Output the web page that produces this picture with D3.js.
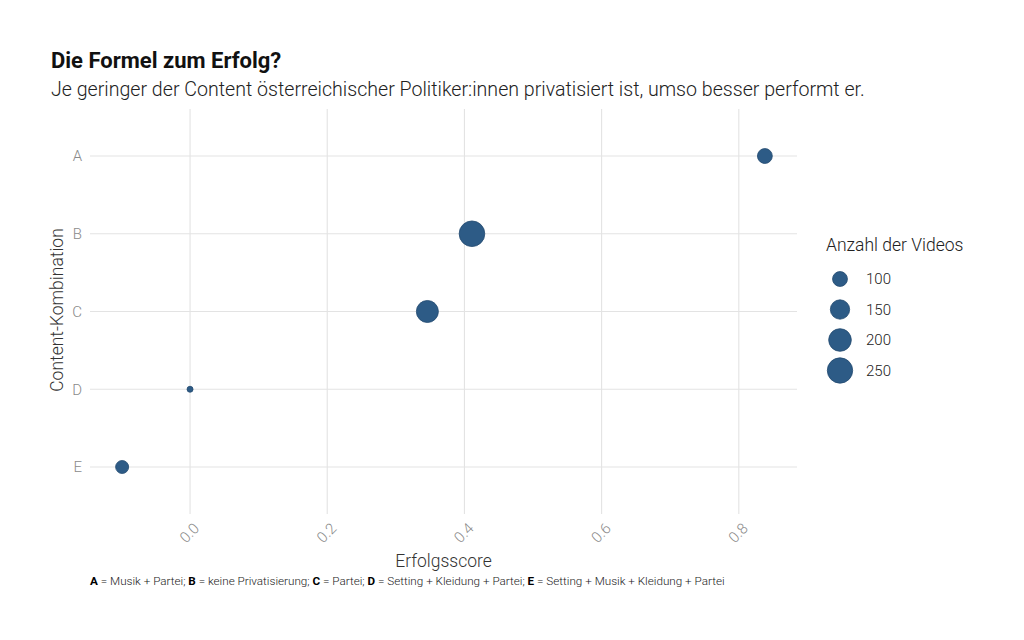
<!DOCTYPE html>
<html>
<head>
<meta charset="utf-8">
<script src="https://cdn.jsdelivr.net/npm/d3@7"></script>
<style>
  body { margin: 0; background: #fff; }
  text { font-family: Roboto, "Noto Sans", sans-serif; }
</style>
</head>
<body>
<div id="chart"></div>
<script>
// data
var categories = ["A", "B", "C", "D", "E"];
var scores = [0.838, 0.411, 0.346, 0.0, -0.099];
var videos = [100, 255, 190, 60, 85];
var xTicks = [0.0, 0.2, 0.4, 0.6, 0.8];
var legendSizes = [100, 150, 200, 250];
var footParts = [
  ["A", " = Musik + Partei; "],
  ["B", " = keine Privatisierung; "],
  ["C", " = Partei; "],
  ["D", " = Setting + Kleidung + Partei; "],
  ["E", " = Setting + Musik + Kleidung + Partei"]
];

var width = 1024, height = 640;
var panel = {left: 90, right: 797, top: 109, bottom: 514};
var dotColor = "#2d5b86", dotStroke = "#234a70";

var svg = d3.select("#chart").append("svg")
    .attr("width", width)
    .attr("height", height);

var data = categories.map(function(c, i) {
  return {cat: c, score: scores[i], n: videos[i]};
});

// ggplot-style 5% expansion
var ext = d3.extent(scores), pad = (ext[1] - ext[0]) * 0.05;
var x = d3.scaleLinear()
    .domain([ext[0] - pad, ext[1] + pad])
    .range([panel.left, panel.right]);

var y = d3.scalePoint()
    .domain(categories)
    .range([156, 467]);

// size: area rescaled between min and max of counts
var norm = d3.scaleLinear().domain(d3.extent(videos)).range([0, 1]);
var rSqrt = d3.scaleSqrt().domain([0, 1]).range([3, 12.8]);
function r(v) { return rSqrt(norm(v)); }

// grid
svg.append("g").selectAll("line")
    .data(xTicks)
  .enter().append("line")
    .attr("x1", function(d) { return x(d); })
    .attr("x2", function(d) { return x(d); })
    .attr("y1", panel.top)
    .attr("y2", panel.bottom)
    .attr("stroke", "#e3e3e3")
    .attr("stroke-width", 1.1);

svg.append("g").selectAll("line")
    .data(categories)
  .enter().append("line")
    .attr("x1", panel.left)
    .attr("x2", panel.right)
    .attr("y1", function(d) { return y(d); })
    .attr("y2", function(d) { return y(d); })
    .attr("stroke", "#e3e3e3")
    .attr("stroke-width", 1.1);

// axes (labels only, like theme_minimal)
var xAxis = svg.append("g")
    .attr("transform", "translate(0," + panel.bottom + ")")
    .call(d3.axisBottom(x).tickValues(xTicks).tickFormat(d3.format(".1f")).tickSize(0));
xAxis.select(".domain").remove();
xAxis.selectAll("text")
    .attr("y", 0).attr("dy", null)
    .attr("transform", "translate(-1,19) rotate(-45)")
    .attr("dominant-baseline", "central")
    .style("text-anchor", "middle")
    .style("font-size", "15px")
    .style("font-weight", 300)
    .attr("fill", "#8a8a8a");

var yAxis = svg.append("g")
    .attr("transform", "translate(" + panel.left + ",0)")
    .call(d3.axisLeft(y).tickSize(0).tickPadding(8));
yAxis.select(".domain").remove();
yAxis.selectAll("text")
    .style("font-size", "15px")
    .style("font-weight", 300)
    .attr("fill", "#8a8a8a");

// points
svg.append("g").selectAll("circle")
    .data(data)
  .enter().append("circle")
    .attr("cx", function(d) { return x(d.score); })
    .attr("cy", function(d) { return y(d.cat); })
    .attr("r", function(d) { return r(d.n); })
    .attr("fill", dotColor)
    .attr("stroke", dotStroke)
    .attr("stroke-width", 0.8);

// titles
svg.append("text")
    .attr("x", 51).attr("y", 68)
    .style("font-size", "22px")
    .style("font-weight", 700)
    .attr("fill", "#111")
    .text("Die Formel zum Erfolg?");

svg.append("text")
    .attr("x", 51).attr("y", 96)
    .style("font-size", "19.6px")
    .style("font-weight", 300)
    .attr("fill", "#222")
    .text("Je geringer der Content österreichischer Politiker:innen privatisiert ist, umso besser performt er.");

svg.append("text")
    .attr("x", (panel.left + panel.right) / 2).attr("y", 567)
    .attr("text-anchor", "middle")
    .style("font-size", "17.5px")
    .style("font-weight", 300)
    .attr("fill", "#333")
    .text("Erfolgsscore");

svg.append("text")
    .attr("transform", "translate(63,310) rotate(-90)")
    .attr("text-anchor", "middle")
    .style("font-size", "17.5px")
    .style("font-weight", 300)
    .attr("fill", "#333")
    .text("Content-Kombination");

// legend
var legend = svg.append("g").attr("transform", "translate(826,0)");
legend.append("text")
    .attr("x", 0).attr("y", 251)
    .style("font-size", "17.5px")
    .style("font-weight", 300)
    .attr("fill", "#222")
    .text("Anzahl der Videos");

var item = legend.selectAll(".item")
    .data(legendSizes)
  .enter().append("g")
    .attr("class", "item")
    .attr("transform", function(d, i) { return "translate(0," + (279 + i * 30.5) + ")"; });
item.append("circle")
    .attr("cx", 14)
    .attr("r", function(d) { return r(d); })
    .attr("fill", dotColor)
    .attr("stroke", dotStroke)
    .attr("stroke-width", 0.8);
item.append("text")
    .attr("x", 40)
    .attr("dy", "0.35em")
    .style("font-size", "15px")
    .style("font-weight", 300)
    .attr("fill", "#222")
    .text(function(d) { return d; });

// caption
var cap = svg.append("text")
    .attr("x", 90).attr("y", 585)
    .style("font-size", "11.7px")
    .style("font-weight", 300)
    .attr("fill", "#222");
footParts.forEach(function(p) {
  cap.append("tspan").style("font-weight", 700).attr("fill", "#000").text(p[0]);
  cap.append("tspan").text(p[1]);
});
</script>
</body>
</html>
